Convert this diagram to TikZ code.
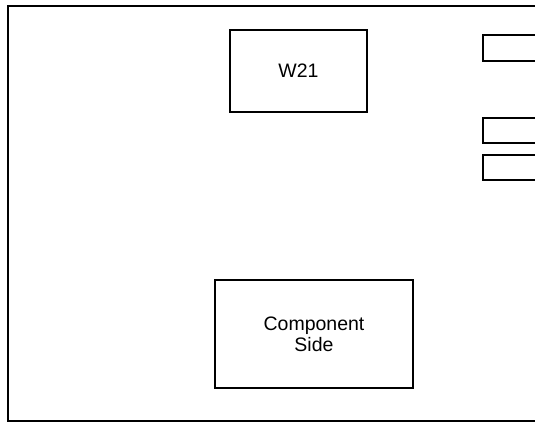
\documentclass[tikz,border=0pt]{standalone}
\usepackage{fontspec}
\setmainfont{Liberation Sans}
\usepackage{tikz}
\usetikzlibrary{positioning}

\begin{document}
\begin{tikzpicture}[x=1pt,y=1pt,line width=1.8pt,
    part/.style={draw,rectangle,inner sep=0pt,align=center,font=\fontsize{19.5}{21}\selectfont},
    tab/.style={draw,line width=1.8pt}]
    \useasboundingbox (0,0) rectangle (535,424);
    % board outline, open on the right
    \draw (535,418) -- (8,418) -- (8,3) -- (535,3);
    \node[part,minimum width=137pt,minimum height=82pt] (w21) at (298.5,353) {W21};
    \node[part,minimum width=198pt,minimum height=108pt] (comp) at (314,90) {Component\\Side};
    % edge tabs
    \draw[tab] (535,389) -- (483,389) -- (483,363) -- (535,363);
    \draw[tab] (535,306) -- (483,306) -- (483,281) -- (535,281);
    \draw[tab] (535,269) -- (483,269) -- (483,244) -- (535,244);
  \end{tikzpicture}
\end{document}
